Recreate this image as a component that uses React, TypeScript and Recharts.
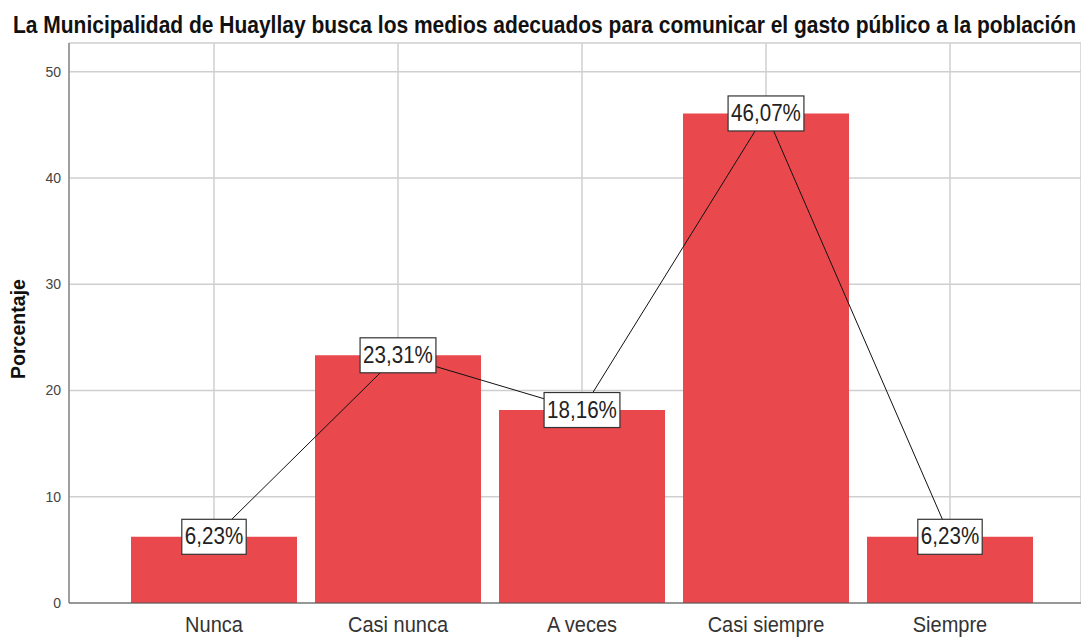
import { Bar, CartesianGrid, ComposedChart, LabelList, Line, XAxis, YAxis } from "recharts";

const categories = ["Nunca", "Casi nunca", "A veces", "Casi siempre", "Siempre"];
const percentages = [6.23, 23.31, 18.16, 46.07, 6.23];
const yTicks = [0, 10, 20, 30, 40, 50];

const title = "La Municipalidad de Huayllay busca los medios adecuados para comunicar el gasto público a la población";

const data = categories.map((name, i) => ({ name, value: percentages[i] }));

const FONT = "'Liberation Sans', Arial, sans-serif";

function BoxLabel(props: any) {
  const { x, y, value } = props;
  if (x == null || y == null) return null;
  const text = `${Number(value).toFixed(2).replace(".", ",")}%`;
  // rough Arial widths, font looks horizontally squeezed in the source
  const em = [...text].reduce((sum, ch) => sum + (ch === "," ? 0.278 : ch === "%" ? 0.889 : 0.556), 0);
  const textWidth = em * 20.6;
  const w = textWidth + 6;
  const h = 35;
  return (
    <g>
      <rect x={x - w / 2} y={y - h / 2} width={w} height={h} fill="#fff" stroke="#333" strokeWidth={1.2} />
      <text
        transform={`translate(${x},${y + 7.5}) scale(1,1.2)`}
        textAnchor="middle"
        fontFamily={FONT}
        fontSize={20.6}
        fill="#222"
      >
        {text}
      </text>
    </g>
  );
}

function CategoryTick(props: any) {
  const { x, y, payload } = props;
  return (
    <text
      transform={`translate(${x},${y + 12.5}) scale(1,1.1)`}
      textAnchor="middle"
      fontFamily={FONT}
      fontSize={20}
      fill="#333"
    >
      {payload.value}
    </text>
  );
}

export default function App() {
  return (
    <div style={{ position: "absolute", left: 0, top: 0, width: 1081, height: 637, background: "#fff" }}>
      <ComposedChart width={1081} height={637} data={data} margin={{ top: 43, right: 0, bottom: 0, left: 0 }} barCategoryGap={9}>
        <CartesianGrid stroke="#cfcfcf" strokeWidth={1.5} />
        <XAxis
          dataKey="name"
          height={34}
          padding={{ left: 53, right: 39 }}
          tickLine={false}
          axisLine={{ stroke: "#555", strokeWidth: 1.2 }}
          tickMargin={10}
          tick={<CategoryTick />}
          interval={0}
        />
        <YAxis
          width={69}
          domain={[0, 52.7]}
          ticks={yTicks}
          tickLine={false}
          axisLine={{ stroke: "#777", strokeWidth: 1.2 }}
          tick={{ fontSize: 14, fill: "#444", fontFamily: FONT }}
        />
        <Bar dataKey="value" fill="#E9484C" isAnimationActive={false} />
        <Line dataKey="value" stroke="#111" strokeWidth={1} dot={false} activeDot={false} isAnimationActive={false}>
          <LabelList dataKey="value" content={<BoxLabel />} />
        </Line>
      </ComposedChart>
      <svg width={1081} height={637} style={{ position: "absolute", left: 0, top: 0, pointerEvents: "none" }}>
        <g transform="translate(13,33) scale(1,1.15)">
          <text x={0} y={0} textLength={1063} lengthAdjust="spacingAndGlyphs" fontFamily={FONT} fontWeight="bold" fontSize={20} fill="#111">
            {title}
          </text>
        </g>
        <text
          transform="translate(25,329) rotate(-90)"
          textAnchor="middle"
          textLength={100}
          lengthAdjust="spacingAndGlyphs"
          fontFamily={FONT}
          fontWeight="bold"
          fontSize={20}
          fill="#111"
        >
          Porcentaje
        </text>
      </svg>
    </div>
  );
}
